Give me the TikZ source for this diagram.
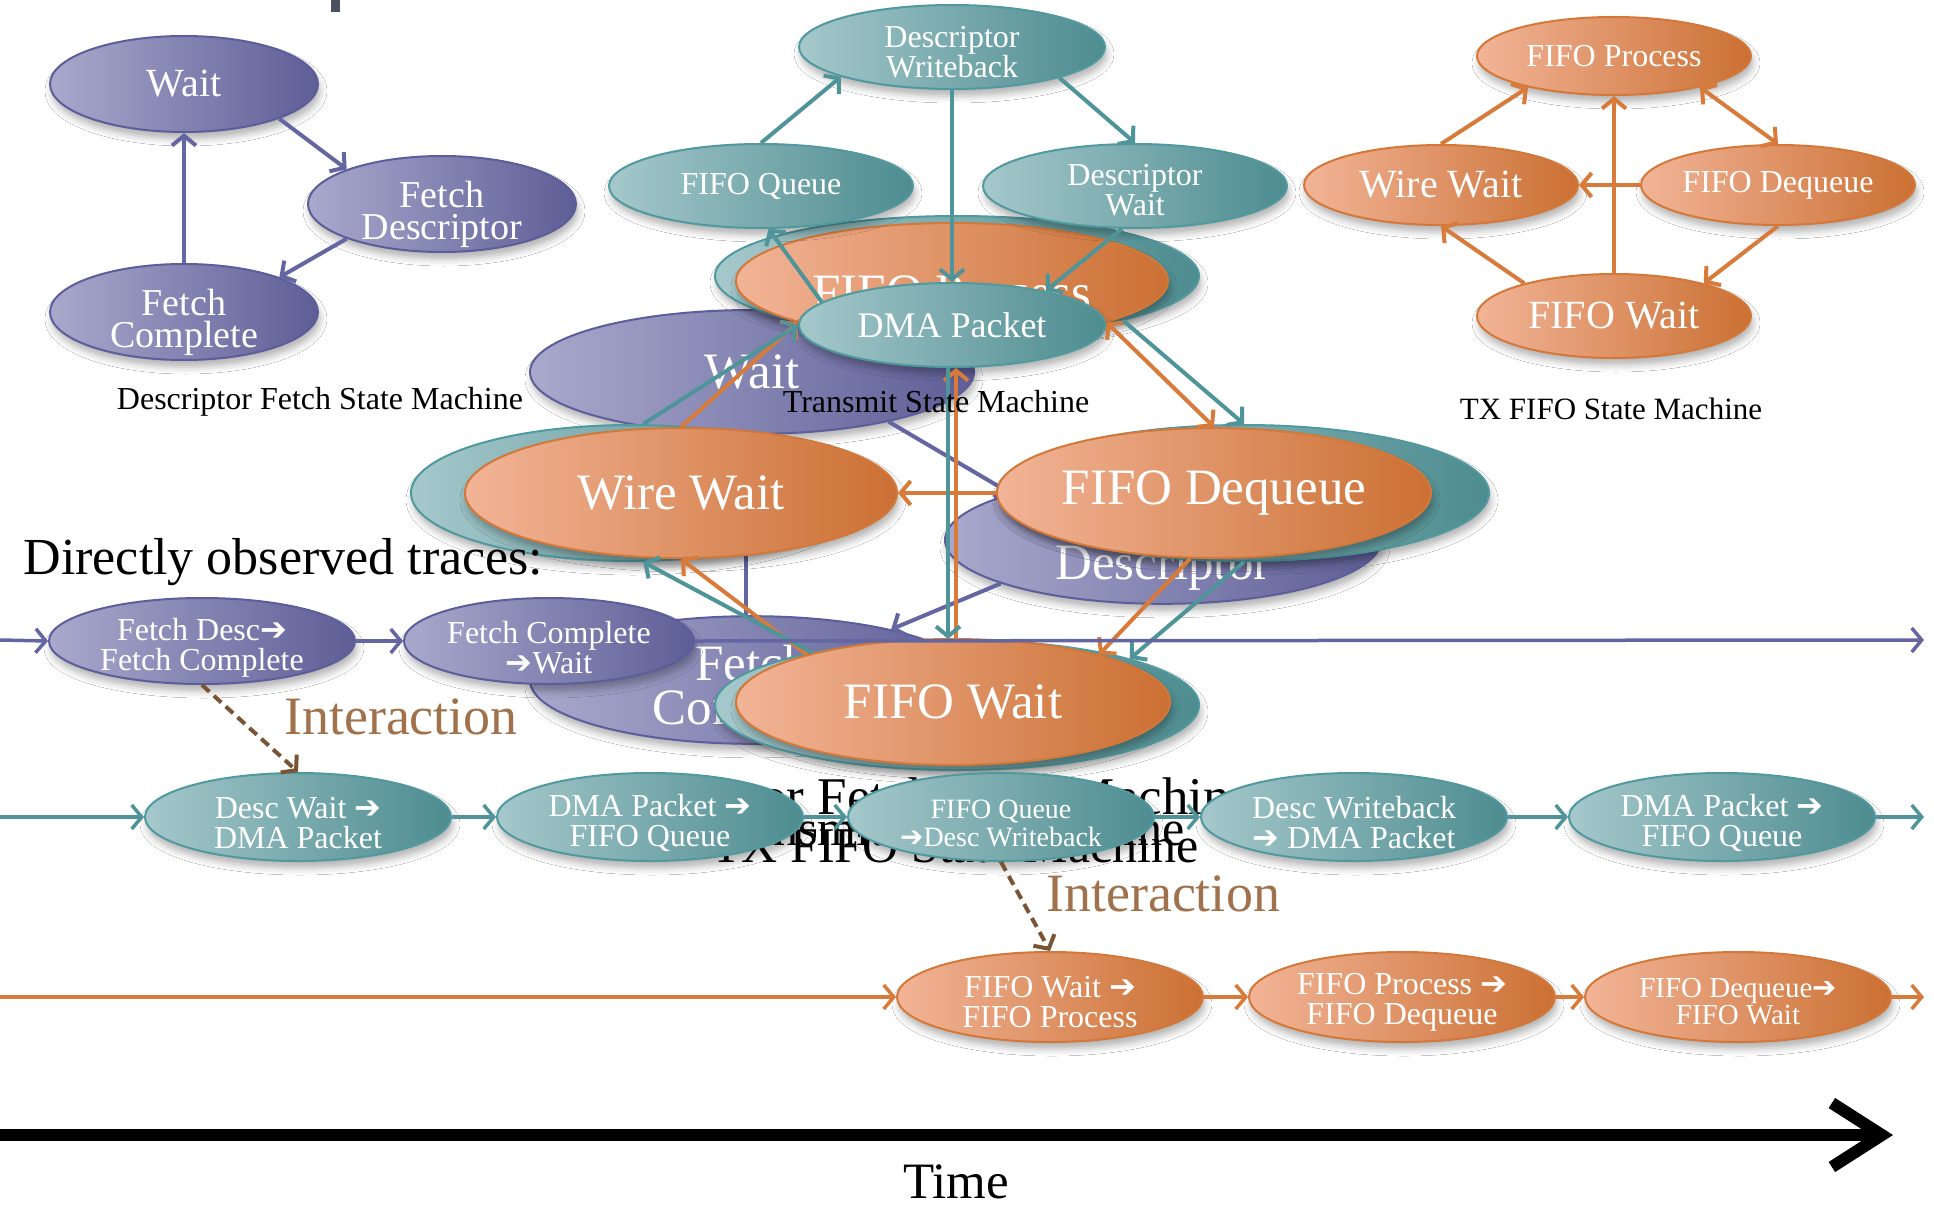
\documentclass[tikz,border=0pt]{standalone}
\usepackage{fontspec}
\setmainfont{Liberation Serif}
\newfontfamily\symfont{DejaVu Sans}
\usetikzlibrary{shapes.geometric,arrows.meta,shadows.blur}
\newcommand{\rarr}{{\symfont ➔}}
\newcommand{\twol}[3][6pt]{\raisebox{-#1}[\height][\depth]{\vbox{\halign{\hfil##\hfil\cr#2\cr#3\cr}}}}
\definecolor{purpL}{HTML}{A9A9CD}
\definecolor{purpR}{HTML}{5E5E97}
\definecolor{purpB}{HTML}{5C5D9B}
\definecolor{purpA}{HTML}{6466A2}
\definecolor{tealL}{HTML}{A5C8CB}
\definecolor{tealR}{HTML}{4D8C90}
\definecolor{tealB}{HTML}{4F999F}
\definecolor{tealA}{HTML}{4F9499}
\definecolor{orL}{HTML}{F2B497}
\definecolor{orR}{HTML}{CB7033}
\definecolor{orB}{HTML}{D4783A}
\definecolor{orA}{HTML}{D77A3A}
\definecolor{brA}{HTML}{7A5535}
\definecolor{brT}{HTML}{A0714A}
\definecolor{markc}{HTML}{4B5160}
\tikzset{
  base/.style={ellipse, inner sep=0pt, text=white, align=center, line width=2pt,
    blur shadow={shadow xshift=2pt, shadow yshift=-7pt, shadow blur radius=7pt, shadow opacity=30}},
  pn/.style={base, draw=purpB, left color=purpL, right color=purpR},
  tn/.style={base, draw=tealB, left color=tealL, right color=tealR},
  on/.style={base, draw=orB, left color=orL, right color=orR},
  sz/.style 2 args={minimum width=#1pt, minimum height=#2pt},
  f28/.style={font=\fontsize{28}{28}\selectfont},
  f29/.style={font=\fontsize{29}{27}\selectfont},
  f31/.style={font=\fontsize{31}{32}\selectfont},
  f32/.style={font=\fontsize{32}{30}\selectfont},
  f36/.style={font=\fontsize{36}{34}\selectfont},
  f38/.style={font=\fontsize{38}{32}\selectfont},
  f40/.style={font=\fontsize{40}{38}\selectfont},
  f50/.style={font=\fontsize{50}{50}\selectfont},
  f51/.style={font=\fontsize{51}{44}\selectfont},
  f52/.style={font=\fontsize{52}{52}\selectfont},
  f53/.style={font=\fontsize{53}{53}\selectfont},
  f54/.style={font=\fontsize{54}{54}\selectfont},
  parr/.style={draw=purpA, line width=4pt, ->},
  tarr/.style={draw=tealA, line width=4pt, ->},
  oarr/.style={draw=orA, line width=4pt, ->},
  ptr/.style={draw=purpA, line width=3.5pt, ->},
  ttr/.style={draw=tealA, line width=3.5pt, ->},
  otr/.style={draw=orA, line width=3.5pt, ->},
  iarr/.style={draw=brA, line width=4pt, dash pattern=on 10pt off 6pt, ->},
}
\begin{document}
\begin{tikzpicture}[x=1pt,y=-1pt,>={Straight Barb[length=10pt,width=24pt]}]
\useasboundingbox (0,0) rectangle (1934,1209);
\fill[white] (0,0) rectangle (1934,1209);
\fill[markc] (331,0) rectangle (340,12);

% ---- Descriptor Fetch State Machine (small)
\node[pn, sz={268}{96}, f40] (sw) at (184,84) {Wait};
\node[pn, sz={268}{96}, f38] (sfd) at (442,204) {\twol[10pt]{Fetch}{Descriptor}};
\node[pn, sz={268}{96}, f38] (sfc) at (184,312) {\twol[10pt]{Fetch}{Complete}};
\draw[parr] (sw.340) -- (sfd.160);
\draw[parr] (sfd.200) -- (sfc.20);
\draw[parr] (sfc.north) -- (sw.south);
\node[f32] (lbl1) at (320,402) {Descriptor Fetch State Machine};

% ---- big purple (behind)
\node[pn, sz={444}{124}, f51] (bw) at (752,372) {Wait};
\node[pn, sz={436}{122}, f51] (bfd) at (1163,540) {\twol[5pt]{Fetch}{Descriptor}};
\node[pn, sz={444}{124}, f51] (bfc) at (752,680) {\twol[10pt]{Fetch}{Complete}};
\draw[parr] (bw.340) -- (bfd.163);
\draw[parr] (bfd.195) -- (bfc.20);
\draw[parr] ([xshift=-6pt]bfc.north) -- ([xshift=-6pt]bw.south);

% ---- big teal
\node[tn, sz={484}{120}] (tb1) at (957,276) {};
\node[tn, sz={440}{136}] (tb2) at (631,493) {};
\node[tn, sz={490}{136}] (tb3) at (1244,493) {};
\node[tn, sz={484}{130}] (tb4) at (957,705) {};
% ---- big orange
\node[on, sz={432}{116}, f51] (bfp) at (952,281) {\raisebox{-12pt}[\height][\depth]{FIFO Process}};
\node[on, sz={432}{130}, f51] (bww) at (681,493) {Wire Wait};
\node[on, sz={434}{130}, f51] (bfdq) at (1214,493) {FIFO Dequeue};
\node[on, sz={434}{126}, f51] (bfw) at (953,702) {FIFO Wait};

% ---- Transmit State Machine (small)
\node[tn, sz={306}{84}, f32] (dw) at (952,47) {\twol[5pt]{Descriptor}{Writeback}};
\node[tn, sz={304}{84}, f32] (fq) at (761,186) {FIFO Queue};
\node[tn, sz={304}{84}, f32] (dwt) at (1135,186) {\twol[4pt]{Descriptor}{Wait}};
\node[tn, sz={306}{84}, f36] (dma) at (952,325) {DMA Packet};
\draw[tarr] (fq.north) -- (dw.195);
\draw[tarr] (dw.344) -- (dwt.north);
\draw[tarr] (dw.south) -- (dma.north);
\draw[tarr] (dwt.253) -- (dma.20);
\draw[tarr] (dma.170) -- (fq.280);

% ---- middle arrows
\draw[oarr] (bww.north) -- (bfp.195);
\draw[tarr] (tb2.80) -- (dma.west);
\draw[oarr, <->] (bfp.345) -- (bfdq.north);
\draw[tarr] (tb1.345) -- (tb3.north);
\draw[oarr] (bfdq.west) -- (bww.east);
\draw[oarr] ([xshift=4pt]dma.south |- bfw.north) -- ([xshift=4pt]dma.south);
\draw[tarr] ([xshift=-4pt]dma.south) -- ([xshift=-4pt]dma.south |- tb4.north);
\draw[oarr] (bfdq.250) -- (bfw.18);
\draw[tarr] (tb3.south) -- (tb4.15);
\draw[oarr] (bfw.162) -- (bww.south);
\draw[tarr] (tb4.160) -- (tb2.280);
\node[f32] (lbl2) at (936,402) {Transmit State Machine};

% ---- TX FIFO State Machine (small)
\node[on, sz={274}{78}, f32] (sfp) at (1614,56) {FIFO Process};
\node[on, sz={274}{80}, f40] (sww) at (1441,185) {Wire Wait};
\node[on, sz={274}{80}, f32] (sfdq) at (1778,185) {FIFO Dequeue};
\node[on, sz={274}{84}, f40] (sfw) at (1614,316) {FIFO Wait};
\draw[oarr] (sww.north) -- (sfp.200);
\draw[oarr, <->] (sfp.340) -- (sfdq.north);
\draw[oarr] (sfdq.west) -- (sww.east);
\draw[oarr] (sfw.north) -- (sfp.south);
\draw[oarr] (sfdq.south) -- (sfw.20);
\draw[oarr] (sfw.160) -- (sww.south);
\node[f31] (lbl3) at (1611,409) {TX FIFO State Machine};

% ---- heading
\node[f52, anchor=west] (dot) at (20,562) {Directly observed traces:};

% ---- ghost labels
\node[f53, anchor=base] (g1) at (917,814) {Descriptor Fetch State Machine};
\node[f50, anchor=base] (g2) at (945,845) {Transmit State Machine};
\node[f50, anchor=base] (g3) at (955,862) {TX FIFO State Machine};

% ---- trace rows
\coordinate (p0) at (0,640); \coordinate (p1) at (1924,640);
\coordinate (q0) at (0,817); \coordinate (q1) at (1924,817);
\coordinate (r0) at (0,997); \coordinate (r1) at (1924,997);

\node[pn, sz={306}{86}, f32] (tr1a) at (202,641) {\twol[7pt]{Fetch Desc\rarr}{Fetch Complete}};
\node[pn, sz={290}{86}, f32] (tr1b) at (549,641) {\twol[7pt]{Fetch Complete}{\rarr Wait}};
\draw[ptr] (p0) -- (tr1a.west);
\draw[ptr] (tr1a.east) -- (tr1b.west);
\draw[ptr] (tr1b.east) -- (p1);

\node[tn, sz={306}{88}, f32] (tr2a) at (298,817) {\twol{Desc Wait \rarr}{DMA Packet}};
\node[tn, sz={306}{88}, f32] (tr2b) at (650,817) {\twol{DMA Packet \rarr}{FIFO Queue}};
\node[tn, sz={306}{88}, f28] (tr2c) at (1001,817) {\twol{FIFO Queue}{\rarr Desc Writeback}};
\node[tn, sz={306}{88}, f32] (tr2d) at (1354,817) {\twol{Desc Writeback}{\rarr\ DMA Packet}};
\node[tn, sz={306}{88}, f32] (tr2e) at (1722,817) {\twol{DMA Packet \rarr}{FIFO Queue}};
\draw[ttr] (q0) -- (tr2a.west);
\draw[ttr] (tr2a.east) -- (tr2b.west);
\draw[ttr] (tr2b.east) -- (tr2c.west);
\draw[ttr] (tr2c.east) -- (tr2d.west);
\draw[ttr] (tr2d.east) -- (tr2e.west);
\draw[ttr] (tr2e.east) -- (q1);

\node[on, sz={306}{90}, f32] (tr3a) at (1050,997) {\twol[5pt]{FIFO Wait \rarr}{FIFO Process}};
\node[on, sz={306}{90}, f32] (tr3b) at (1402,997) {\twol[5pt]{FIFO Process \rarr}{FIFO Dequeue}};
\node[on, sz={306}{90}, f29] (tr3c) at (1738,997) {\twol[5pt]{FIFO Dequeue\rarr}{FIFO Wait}};
\draw[otr] (r0) -- (tr3a.west);
\draw[otr] (tr3a.east) -- (tr3b.west);
\draw[otr] (tr3b.east) -- (tr3c.west);
\draw[otr] (tr3c.east) -- (r1);

% ---- interactions
\draw[iarr] (tr1a.south) -- (tr2a.north);
\draw[iarr] (tr2c.south) -- (tr3a.north);
\node[f54, text=brT] (int1) at (401,717) {Interaction};
\node[f54, text=brT] (int2) at (1163,894) {Interaction};

% ---- time axis
\coordinate (t0) at (0,1135); \coordinate (t1) at (1893,1135);
\draw[line width=12pt, -{Straight Barb[length=50pt,width=64pt]}] (t0) -- (t1);
\node[f51] (time) at (956,1182) {Time};
\end{tikzpicture}
\end{document}
